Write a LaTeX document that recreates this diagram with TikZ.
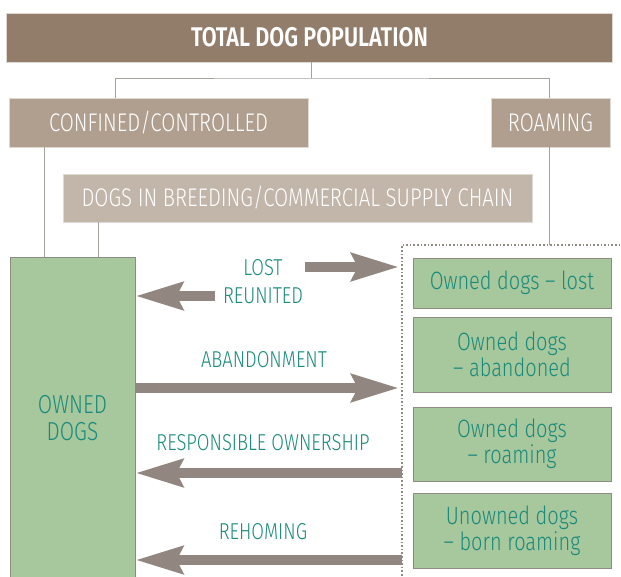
\documentclass[tikz,border=0pt]{standalone}
\usepackage{fontspec}
\setmainfont{Fira Sans}[FakeStretch=0.8, UprightFont=* Light, BoldFont=* SemiBold]
\usetikzlibrary{arrows.meta,positioning}
\definecolor{darkbrown}{HTML}{927D6B}
\definecolor{midbrown}{HTML}{B09F8F}
\definecolor{palebrown}{HTML}{C2B5A9}
\definecolor{dogsgreen}{HTML}{A7C79D}
\definecolor{tealtext}{HTML}{1A8A7B}
\definecolor{arrowgrey}{HTML}{918680}
\definecolor{edgegrey}{HTML}{8F8A82}
\begin{document}
\begin{tikzpicture}[x=1pt, y=-1pt,
    every node/.style = {inner sep=0pt, align=center},
    headbox/.style = {draw=white!70!darkbrown, fill=darkbrown, text=white, font=\fontsize{27}{29}\selectfont\bfseries},
    groupbox/.style = {draw=white!60!midbrown, fill=midbrown, text=white, minimum height=49pt, font=\fontsize{25.5}{28}\selectfont},
    chainbox/.style = {draw=white!50!palebrown, fill=palebrown, text=white, font=\fontsize{25.5}{28}\selectfont},
    dogbox/.style = {draw=edgegrey, line width=1pt, fill=dogsgreen, text=tealtext, minimum width=198pt, font=\fontsize{25}{26}\selectfont},
    flowlabel/.style = {text=tealtext, font=\fontsize{23}{27}\selectfont},
    link/.style = {draw=edgegrey!80, line width=1pt},
    bigarrow/.style = {draw=arrowgrey, line width=10pt, -{Stealth[length=47pt, width=27pt, inset=6pt]}}]
  \clip (0,0) rectangle (621,576);
  % top of the hierarchy
  \node[headbox, minimum width=606pt, minimum height=49pt] (total) at (309.5,37.5) {TOTAL DOG POPULATION};
  \node[groupbox, minimum width=299pt] (confined) at (158.5,122.5) {CONFINED/CONTROLLED};
  \node[groupbox, minimum width=119pt] (roaming) at (550.5,122.5) {ROAMING};
  \node[chainbox, minimum width=469pt, minimum height=48pt] (chain) at (297.5,198) {DOGS IN BREEDING/COMMERCIAL SUPPLY CHAIN};
  % owned dogs on the left
  \node[dogbox, minimum width=125pt, minimum height=323pt, font=\fontsize{26}{27}\selectfont] (owned) at (72.5,418.5) {OWNED\\DOGS};
  % dogs on the street
  \coordinate (zone) at (402,245);
  \node[dogbox, minimum height=50pt] (lost) at (512,283) {Owned dogs -- lost};
  \node[dogbox, minimum height=75pt] (abandoned) at (512,354.5) {Owned dogs\\-- abandoned};
  \node[dogbox, minimum height=74pt] (stray) at (512,444) {Owned dogs\\-- roaming};
  \node[dogbox, minimum height=75pt] (unowned) at (512,530.5) {Unowned dogs\\-- born roaming};
  \draw[edgegrey, line width=1.6pt, dotted] (zone |- 0,590) -- (zone) -- (625,245);
  % tree lines
  \coordinate (split) at (311,78);
  \draw[link] (total.south -| split) -- (split);
  \draw[link] (confined.north -| 115,0) |- (split) -| (roaming.north -| 549,0);
  \draw[link] (confined.south -| 44,0) -- (owned.north -| 44,0);
  \draw[link] (chain.south -| 98,0) -- (owned.north -| 98,0);
  \draw[link] (roaming.south -| 549,0) -- (zone -| 549,0);
  % flows
  \node[flowlabel] (lostlbl) at (263,268) {LOST};
  \node[flowlabel] (backlbl) at (263,296) {REUNITED};
  \node[flowlabel] (droplbl) at (264,360) {ABANDONMENT};
  \node[flowlabel] (carelbl) at (263,443) {RESPONSIBLE OWNERSHIP};
  \node[flowlabel] (homelbl) at (263,532) {REHOMING};
  \coordinate (lostfrom) at (305,267);
  \coordinate (backfrom) at (215,296);
  \draw[bigarrow] (lostfrom) -- (lostfrom -| 399,0);
  \draw[bigarrow] (backfrom) -- (backfrom -| owned.east);
  \draw[bigarrow] (owned.east |- 0,388) -- (399,388);
  \draw[bigarrow] (zone |- 0,473) -- (owned.east |- 0,473);
  \draw[bigarrow] (zone |- 0,560) -- (owned.east |- 0,560);
\end{tikzpicture}
\end{document}
